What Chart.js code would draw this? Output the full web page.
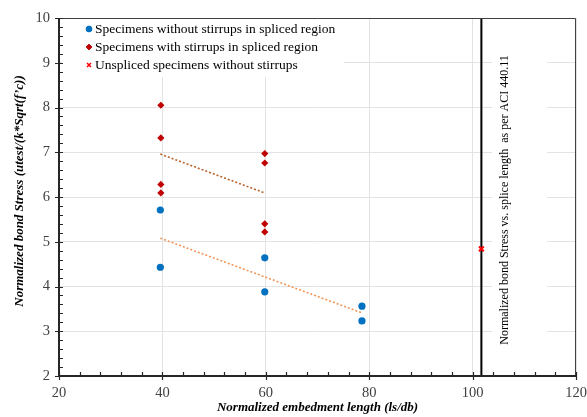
<!DOCTYPE html>
<html>
<head>
<meta charset="utf-8">
<script src="https://cdn.jsdelivr.net/npm/chart.js@4/dist/chart.umd.min.js"></script>
<style>
html,body{margin:0;padding:0;background:#fff;}
canvas{display:block;}
</style>
</head>
<body>
<canvas id="c" width="587" height="417"></canvas>
<script>
// ---- data ----
const xTicks = [20, 40, 60, 80, 100, 120];
const yTicks = [2, 3, 4, 5, 6, 7, 8, 9, 10];

const seriesNames = [
  "Specimens without stirrups in spliced region",
  "Specimens with stirrups in spliced region",
  "Unspliced specimens without stirrups"
];

const noStirrupsX = [39.6, 39.6, 59.8, 59.8, 78.6, 78.6];
const noStirrupsY = [5.71, 4.43, 4.64, 3.88, 3.56, 3.23];

const stirrupsX = [39.7, 39.7, 39.7, 39.7, 59.8, 59.8, 59.8, 59.8];
const stirrupsY = [8.05, 7.32, 6.28, 6.09, 6.97, 6.76, 5.40, 5.22];

const unsplicedX = [101.7];
const unsplicedY = [4.84];

const trendNoStirrupsX = [39.6, 78.6];
const trendNoStirrupsY = [5.08, 3.41];

const trendStirrupsX = [39.6, 59.8];
const trendStirrupsY = [6.96, 6.09];

const aciLineX = [101.7, 101.7];
const aciLineY = [2, 10];

const xTitle = "Normalized embedment length (ls/db)";
const yTitle = "Normalized bond Stress (utest/(k*Sqrt(f\u2019c))";
const aciText = "Normalized bond Stress vs. splice length  as per ACI 440.11";

const pts = (xs, ys) => xs.map((x, i) => ({x: x, y: ys[i]}));

const SERIF = "'Liberation Serif', 'DejaVu Serif', serif";

const datasets = [
  {label: seriesNames[0], data: pts(noStirrupsX, noStirrupsY), order: 1, pointStyle: 'circle', pointRadius: 3.6, backgroundColor: '#0070C0', borderColor: '#0070C0', borderWidth: 0, legend: true},
  {label: seriesNames[1], data: pts(stirrupsX, stirrupsY), order: 1, pointStyle: 'rectRot', pointRadius: 3.6, backgroundColor: '#C00000', borderColor: '#C00000', borderWidth: 0, legend: true},
  {label: seriesNames[2], data: pts(unsplicedX, unsplicedY), order: 0, pointStyle: 'crossRot', pointRadius: 3.4, backgroundColor: '#FF0000', borderColor: '#FF0000', borderWidth: 2, legend: true},
  {label: "trendStirrups", data: pts(trendStirrupsX, trendStirrupsY), order: 5, showLine: true, borderColor: '#B8612A', borderWidth: 1.6, borderDash: [2, 2], pointRadius: 0, fill: false},
  {label: "trendNoStirrups", data: pts(trendNoStirrupsX, trendNoStirrupsY), order: 5, showLine: true, borderColor: '#F0965A', borderWidth: 1.6, borderDash: [2, 2], pointRadius: 0, fill: false},
  {label: "aci", data: pts(aciLineX, aciLineY), order: 5, showLine: true, borderColor: '#000000', borderWidth: 2, pointRadius: 0, fill: false}
];

const overlay = {
  id: 'overlay',
  beforeDatasetsDraw(chart) {
    const ctx = chart.ctx, ca = chart.chartArea;
    ctx.save();
    // legend box (covers gridlines)
    ctx.fillStyle = '#ffffff';
    ctx.fillRect(ca.left + 3, ca.top + 1, 282, 58);
    // text box near ACI line
    ctx.fillRect(492, ca.top + 1, 55, ca.bottom - ca.top - 2);
    // legend entries
    const items = chart.data.datasets.filter(d => d.legend);
    ctx.font = '13.5px ' + SERIF;
    ctx.textBaseline = 'middle';
    ctx.textAlign = 'left';
    items.forEach((d, i) => {
      const y = ca.top + 11 + i * 18;
      const mx = ca.left + 30;
      ctx.fillStyle = d.backgroundColor; ctx.strokeStyle = d.borderColor;
      ctx.lineWidth = d.pointStyle === 'crossRot' ? 1.5 : 1;
      Chart.helpers.drawPoint(ctx, {pointStyle: d.pointStyle, radius: d.pointStyle === 'crossRot' ? 2.8 : 2.9, rotation: 0, borderWidth: ctx.lineWidth}, mx, y);
      ctx.fillStyle = '#000000';
      ctx.fillText(d.label, mx + 6, y);
    });
    // rotated ACI text
    ctx.save();
    ctx.translate(505, 200);
    ctx.rotate(-Math.PI / 2);
    ctx.textAlign = 'center';
    ctx.fillStyle = '#000000';
    ctx.font = '12px ' + SERIF;
    ctx.fillText(aciText, 0, 0);
    ctx.restore();
    ctx.restore();
  },
  afterDraw(chart) {
    const ctx = chart.ctx, ca = chart.chartArea;
    const xs = chart.scales.x, ys = chart.scales.y;
    ctx.save();
    // plot border top/right
    ctx.strokeStyle = '#404040';
    ctx.lineWidth = 1;
    ctx.beginPath();
    ctx.moveTo(ca.left, ca.top + 0.5); ctx.lineTo(ca.right - 0.5, ca.top + 0.5); ctx.lineTo(ca.right - 0.5, ca.bottom);
    ctx.stroke();
    // axis lines
    ctx.strokeStyle = '#262626';
    ctx.lineWidth = 2;
    ctx.beginPath();
    ctx.moveTo(ca.left, ca.top); ctx.lineTo(ca.left, ca.bottom); ctx.lineTo(ca.right, ca.bottom);
    ctx.stroke();
    // ticks
    ctx.lineWidth = 1.2;
    ctx.beginPath();
    for (let v = xs.min; v <= xs.max + 1e-6; v += 4) {
      const px = Math.round(xs.getPixelForValue(v)) + 0.5;
      const major = Math.abs(v % 20) < 1e-6;
      ctx.moveTo(px, ca.bottom - 4);
      ctx.lineTo(px, ca.bottom + (major ? 4 : 0));
    }
    for (let k = 0; k <= 40; k++) {
      const v = ys.min + k * 0.2;
      const py = Math.round(ys.getPixelForValue(v)) + 0.5;
      const major = k % 5 === 0;
      ctx.moveTo(ca.left - (major ? 4 : 0), py);
      ctx.lineTo(ca.left + 4, py);
    }
    ctx.stroke();
    // axis titles
    ctx.fillStyle = '#000000';
    ctx.font = 'italic bold 13px ' + SERIF;
    ctx.textAlign = 'center';
    ctx.textBaseline = 'middle';
    ctx.fillText(xTitle, (ca.left + ca.right) / 2, 408);
    ctx.save();
    ctx.translate(20, 191);
    ctx.rotate(-Math.PI / 2);
    ctx.fillText(yTitle, 0, 0);
    ctx.restore();
    ctx.restore();
  }
};

new Chart(document.getElementById('c'), {
  type: 'scatter',
  data: {datasets: datasets},
  options: {
    responsive: false,
    animation: false,
    devicePixelRatio: 1,
    layout: {padding: {top: 18, right: 11, left: 0, bottom: 0}},
    plugins: {legend: {display: false}, tooltip: {enabled: false}},
    scales: {
      x: {
        type: 'linear', min: 20, max: 120,
        afterBuildTicks: s => { s.ticks = xTicks.map(v => ({value: v})); },
        afterFit: s => { s.height = 41; s.paddingLeft = 0; s.paddingRight = 0; },
        grid: {color: '#e3e3e3', lineWidth: 1, drawTicks: false},
        border: {display: false},
        ticks: {padding: 8, color: '#404040', font: {family: SERIF, size: 14.5}}
      },
      y: {
        type: 'linear', min: 2, max: 10,
        afterBuildTicks: s => { s.ticks = yTicks.map(v => ({value: v})); },
        afterFit: s => { s.width = 59; s.paddingTop = 0; s.paddingBottom = 0; },
        grid: {color: '#e3e3e3', lineWidth: 1, drawTicks: false},
        border: {display: false},
        ticks: {padding: 9, color: '#404040', font: {family: SERIF, size: 14.5}}
      }
    }
  },
  plugins: [overlay]
});
</script>
</body>
</html>
